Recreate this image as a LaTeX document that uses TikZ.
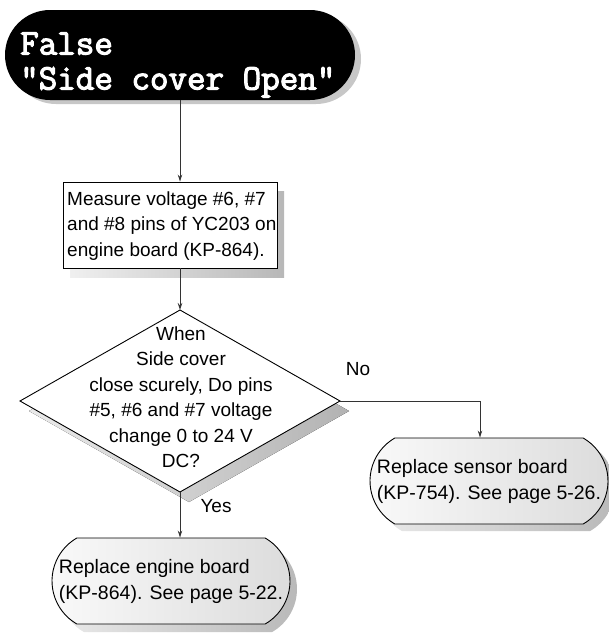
\documentclass[tikz,border=0pt]{standalone}
\usepackage{fontspec}
\setmainfont{Liberation Sans}
\newfontfamily\monob{Latin Modern Mono}[FakeBold=3]
\usetikzlibrary{shapes.misc,shapes.geometric,arrows.meta,calc}
\begin{document}
\begin{tikzpicture}[x=1pt,y=-1pt,
  arr/.style={draw=black!80, line width=0.8pt, -{Stealth[length=7pt,width=4.5pt]}},
  bodytext/.style={font=\fontsize{19}{25.5}\selectfont},
  shadowfill/.style={left color=black!8, right color=black!28, draw=none},
  termshape/.style={rounded rectangle, rounded rectangle arc length=120, minimum width=238pt, minimum height=86pt, inner sep=0pt},
  termbox/.style={termshape, draw=black, line width=0.9pt, left color=black!2, right color=black!14},
  termshadow/.style={termshape, shadowfill},
]
\useasboundingbox (0,0) rectangle (608,640);

% ---- start terminator ----
\node[rounded rectangle, minimum width=350pt, minimum height=90pt, inner sep=0pt, fill=black!22] (startsh) at (186,59) {};
\node[rounded rectangle, minimum width=350pt, minimum height=90pt, inner sep=0pt, fill=black] (start) at (180,55) {};
\node[anchor=west, align=left, text=white, inner sep=0pt,
      font=\monob\fontsize{36}{35}\selectfont] (starttxt) at (20,65) {False\\"Side cover Open"};

% ---- measure box ----
\node[minimum width=214pt, minimum height=86pt, inner sep=0pt, left color=black!6, right color=black!28] (measuresh) at (177,234) {};
\node[draw=black, line width=0.9pt, fill=white, minimum width=214pt, minimum height=86pt, inner sep=0pt] (measure) at (170,225) {};
\node[anchor=west, align=left, bodytext, inner sep=0pt] (measuretxt) at (67,226)
      {Measure voltage \#6, \#7\\and \#8 pins of YC203 on\\engine board (KP-864).};

% ---- decision diamond ----
\coordinate (dtop) at (180,310);
\coordinate (dright) at (340,401);
\coordinate (dbottom) at (180,492);
\coordinate (dleft) at (20,401);
\fill[left color=black!8, right color=black!30] ([shift={(9,10)}]dtop) -- ([shift={(9,10)}]dright) -- ([shift={(9,10)}]dbottom) -- ([shift={(9,10)}]dleft) -- cycle;
\filldraw[fill=white, draw=black, line width=0.9pt] (dtop) -- (dright) -- (dbottom) -- (dleft) -- cycle;
\node[align=center, bodytext, inner sep=0pt] (dtext) at (181,397)
  {When\\Side cover\\close scurely, Do pins\\\#5, \#6 and \#7 voltage\\change 0 to 24 V\\DC?};

% ---- result terminators ----
\node[termshadow] (sensorsh) at (496,488) {};
\node[termbox, align=left, font=\fontsize{19.5}{26}\selectfont] (sensor) at (489,481)
  {Replace sensor board\\(KP-754). See page 5-26.};

\node[termshadow] (enginesh) at (178,589) {};
\node[termbox, align=left, font=\fontsize{19.5}{26}\selectfont] (engine) at (171,581)
  {Replace engine board\\(KP-864). See page 5-22.};

% ---- connectors ----
\draw[arr] (start.south) -- (start.south |- measure.north);
\draw[arr] (measure.south -| dtop) -- (dtop);
\coordinate (sensorin) at ($(sensor.north)+(-9,0)$);
\draw[arr] (dright) -| (sensorin);
\coordinate (enginein) at (dbottom |- engine.north);
\draw[arr] (dbottom) -- (enginein);

% ---- labels ----
\node[bodytext, inner sep=0pt] (nolabel) at (358,369) {No};
\node[bodytext, inner sep=0pt] (yeslabel) at (216,506) {Yes};
\end{tikzpicture}
\end{document}
